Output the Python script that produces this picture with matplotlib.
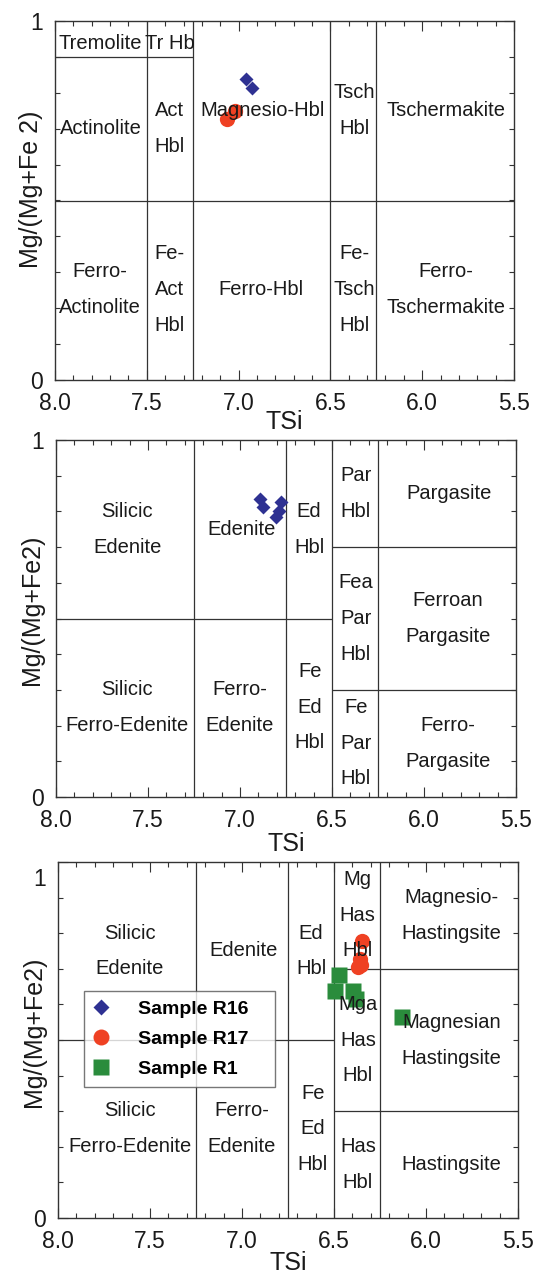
import numpy as np
import matplotlib
matplotlib.use("Agg")
import matplotlib.pyplot as plt
from matplotlib.ticker import MultipleLocator, FixedLocator
from matplotlib.transforms import ScaledTranslation
from matplotlib.lines import Line2D

plt.rcParams['font.family'] = ['Liberation Sans', 'DejaVu Sans']

# ---------------- data ----------------
x_ticks = [8.0, 7.5, 7.0, 6.5, 6.0, 5.5]
x_tick_labels = ['8.0', '7.5', '7.0', '6.5', '6.0', '5.5']
y_ticks = [0, 1]
y_tick_labels = ['0', '1']

series_names = ['Sample R16', 'Sample R17', 'Sample R1']

# panel 1 (calcic amphiboles, (Na+K)A<0.5)
p1_r16_tsi = [6.960, 6.929]
p1_r16_mg = [0.838, 0.813]
p1_r17_tsi = [7.018, 7.065]
p1_r17_mg = [0.750, 0.727]

# panel 2 (edenite / pargasite field)
p2_r16_tsi = [6.891, 6.876, 6.778, 6.787, 6.806]
p2_r16_mg = [0.835, 0.813, 0.827, 0.802, 0.783]

# panel 3 (edenite / hastingsite field)
p3_r17_tsi = [6.347, 6.360, 6.370, 6.352]
p3_r17_mg = [0.778, 0.728, 0.705, 0.712]
p3_r1_tsi = [6.471, 6.497, 6.398, 6.382, 6.133]
p3_r1_mg = [0.682, 0.637, 0.639, 0.614, 0.566]

# field boundaries: (x0, x1, y0, y1)
p1_bounds = [(7.5, 7.5, 0, 1), (7.25, 7.25, 0, 1), (6.5, 6.5, 0, 1), (6.25, 6.25, 0, 1),
             (8.0, 5.5, 0.5, 0.5), (8.0, 7.25, 0.9, 0.9)]
p23_bounds = [(7.25, 7.25, 0, 1), (6.75, 6.75, 0, 1), (6.5, 6.5, 0, 1), (6.25, 6.25, 0, 1),
              (8.0, 6.5, 0.5, 0.5), (6.5, 5.5, 0.7, 0.7), (6.5, 5.5, 0.3, 0.3)]

# field names: (text, x, y of block centre)
p1_labels = [("Tremolite", 7.755, 0.936), ("Tr Hb", 7.375, 0.936),
             ("Actinolite", 7.75, 0.70), ("Act\nHbl", 7.376, 0.70),
             ("Magnesio-Hbl", 6.87, 0.751), ("Tsch\nHbl", 6.371, 0.75),
             ("Tschermakite", 5.871, 0.751),
             ("Ferro-\nActinolite", 7.755, 0.252), ("Fe-\nAct\nHbl", 7.376, 0.252),
             ("Ferro-Hbl", 6.88, 0.252), ("Fe-\nTsch\nHbl", 6.371, 0.252),
             ("Ferro-\nTschermakite", 5.871, 0.252)]
p2_labels = [("Silicic\nEdenite", 7.612, 0.75), ("Edenite", 6.994, 0.749),
             ("Ed\nHbl", 6.624, 0.75), ("Par\nHbl", 6.37, 0.85),
             ("Pargasite", 5.862, 0.851), ("Fea\nPar\nHbl", 6.37, 0.50),
             ("Ferroan\nPargasite", 5.87, 0.50),
             ("Silicic\nFerro-Edenite", 7.612, 0.251), ("Ferro-\nEdenite", 7.0, 0.251),
             ("Fe\nEd\nHbl", 6.62, 0.252), ("Fe\nPar\nHbl", 6.37, 0.151),
             ("Ferro-\nPargasite", 5.87, 0.15)]
p3_labels = [("Silicic\nEdenite", 7.61, 0.75), ("Edenite", 6.994, 0.751),
             ("Ed\nHbl", 6.624, 0.75), ("Mg\nHas\nHbl", 6.371, 0.851),
             ("Magnesio-\nHastingsite", 5.862, 0.85), ("Mga\nHas\nHbl", 6.37, 0.50),
             ("Magnesian\nHastingsite", 5.862, 0.498),
             ("Silicic\nFerro-Edenite", 7.61, 0.251), ("Ferro-\nEdenite", 7.0, 0.251),
             ("Fe\nEd\nHbl", 6.615, 0.25), ("Has\nHbl", 6.37, 0.15),
             ("Hastingsite", 5.862, 0.15)]

# ---------------- style ----------------
BLUE = '#2E3192'
RED = '#EF4123'
GREEN = '#2A8C3C'
LINE = '#333333'
LABEL_FS = 14.5
TICK_FS = 16.5
AXLABEL_FS = 18

W, H = 540, 1273
fig = plt.figure(figsize=(W / 100, H / 100), dpi=100)


def add_axes_px(l, t, r, b):
    return fig.add_axes([l / W, 1 - b / H, (r - l) / W, (b - t) / H])


def style_axes(ax, ylabel, xlab_y, ylab_xy):
    ax.set_xlim(8.0, 5.5)
    ax.set_ylim(0, 1)
    ax.xaxis.set_major_locator(FixedLocator(x_ticks))
    ax.set_xticklabels(x_tick_labels)
    ax.xaxis.set_minor_locator(MultipleLocator(0.1))
    ax.yaxis.set_major_locator(FixedLocator(y_ticks))
    ax.set_yticklabels(y_tick_labels)
    ax.yaxis.set_minor_locator(MultipleLocator(0.1))
    ax.tick_params(which='both', direction='in', top=True, right=True,
                   color=LINE, width=0.8, labelsize=TICK_FS, pad=8.5,
                   labelcolor='#1a1a1a')
    ax.tick_params(which='major', length=7)
    ax.tick_params(which='minor', length=3.5)
    for s in ax.spines.values():
        s.set_linewidth(1.0)
        s.set_color(LINE)
    ax.set_xlabel('TSi', fontsize=AXLABEL_FS, color='#1a1a1a')
    ax.xaxis.set_label_coords(0.5, xlab_y)
    ax.xaxis.label.set_va('top')
    ax.set_ylabel(ylabel, fontsize=AXLABEL_FS, color='#1a1a1a')
    ax.yaxis.set_label_coords(*ylab_xy)


def draw_fields(ax, bounds, labels):
    for x0, x1, y0, y1 in bounds:
        ax.plot([x0, x1], [y0, y1], color=LINE, lw=0.9, zorder=1,
                solid_capstyle='butt')
    for text, x, yc in labels:
        lines = text.split('\n')
        n = len(lines)
        for i, ln in enumerate(lines):
            ax.text(x, yc + 0.1 * ((n - 1) / 2 - i), ln, ha='center', va='center',
                    fontsize=LABEL_FS, color='#1a1a1a', zorder=3)


def scatter_series(ax, xs, ys, kind):
    if kind == 0:
        ax.plot(xs, ys, 'D', color=BLUE, ms=7.3, mec='none', ls='none', zorder=2)
    elif kind == 1:
        ax.plot(xs, ys, 'o', color=RED, ms=11, mec='none', ls='none', zorder=2)
    else:
        ax.plot(xs, ys, 's', color=GREEN, ms=11.5, mec='none', ls='none', zorder=2)


# panel 1
ax1 = add_axes_px(55, 21, 514, 380)
draw_fields(ax1, p1_bounds, p1_labels)
scatter_series(ax1, p1_r16_tsi, p1_r16_mg, 0)
scatter_series(ax1, p1_r17_tsi, p1_r17_mg, 1)
style_axes(ax1, 'Mg/(Mg+Fe 2)', -0.084, (-0.026, 0.53))

# panel 2
ax2 = add_axes_px(56, 440, 516, 797)
draw_fields(ax2, p23_bounds, p2_labels)
scatter_series(ax2, p2_r16_tsi, p2_r16_mg, 0)
style_axes(ax2, 'Mg/(Mg+Fe2)', -0.098, (-0.026, 0.525))

# panel 3
ax3 = add_axes_px(58, 862, 518, 1218)
draw_fields(ax3, p23_bounds, p3_labels)
scatter_series(ax3, p3_r17_tsi, p3_r17_mg, 1)
scatter_series(ax3, p3_r1_tsi, p3_r1_mg, 2)
style_axes(ax3, 'Mg/(Mg+Fe2)', -0.093, (-0.026, 0.522))
# the "1" label of the lower panel sits a little below the frame top
for lab in ax3.get_yticklabels():
    if lab.get_text() == '1':
        lab.set_transform(lab.get_transform() +
                          ScaledTranslation(0, -15 / 100, fig.dpi_scale_trans))

handles = [Line2D([], [], marker='D', color=BLUE, ms=7.8, mec='none', ls='none'),
           Line2D([], [], marker='o', color=RED, ms=11.5, mec='none', ls='none'),
           Line2D([], [], marker='s', color=GREEN, ms=11.5, mec='none', ls='none')]
leg = ax3.legend(handles, series_names, loc='upper left',
                 bbox_to_anchor=(0.0557, 0.36, 0.4163, 0.278), mode='expand',
                 borderaxespad=0, prop={'weight': 'bold', 'size': 14},
                 frameon=True, fancybox=False, handlelength=0.8,
                 handletextpad=1.5, borderpad=0.5, labelspacing=0.62)
leg.get_frame().set_edgecolor('#555555')
leg.get_frame().set_linewidth(1.0)
leg.set_zorder(5)

fig.savefig('out.png', dpi=100)
